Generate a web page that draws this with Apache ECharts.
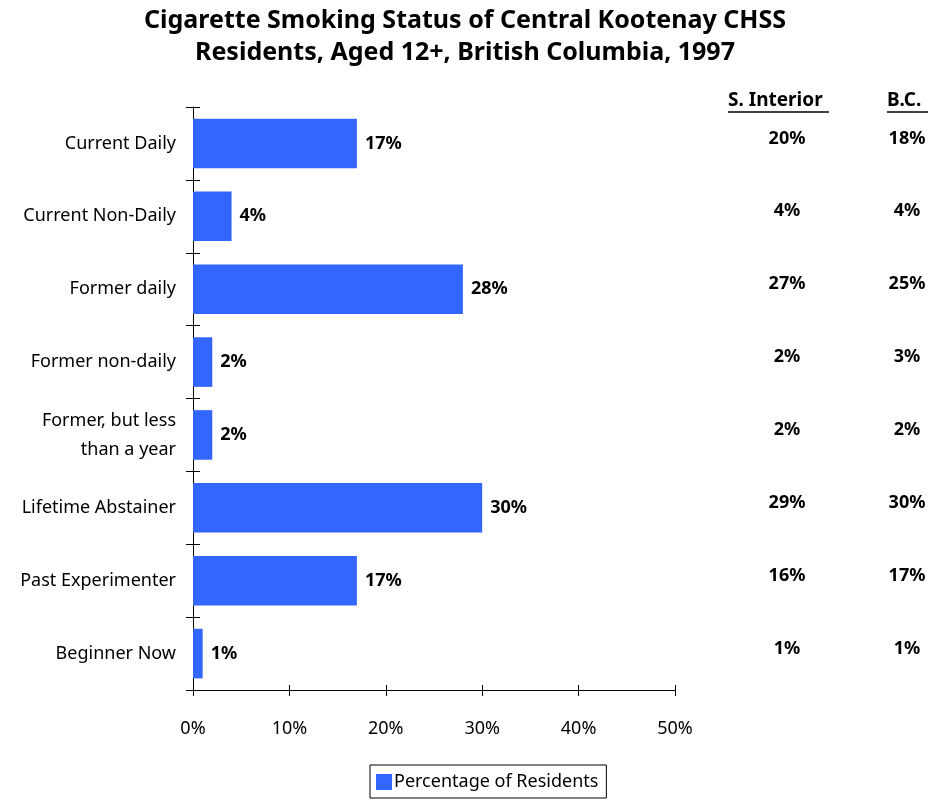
<!DOCTYPE html>
<html>
<head>
<meta charset="utf-8">
<script src="https://cdn.jsdelivr.net/npm/echarts@6/dist/echarts.min.js"></script>
<style>
  html, body { margin: 0; padding: 0; background: #fff; }
  #chart { width: 930px; height: 800px; }
</style>
</head>
<body>
<div id="chart"></div>
<script>
// 类别与数据
const categories = ['Current Daily', 'Current Non-Daily', 'Former daily', 'Former non-daily',
  'Former, but less\nthan a year', 'Lifetime Abstainer', 'Past Experimenter', 'Beginner Now']
const kootenay = [17, 4, 28, 2, 2, 30, 17, 1]
const sInterior = [20, 4, 27, 2, 2, 29, 16, 1]
const bc = [18, 4, 25, 3, 2, 30, 17, 1]
const xTicks = [0, 10, 20, 30, 40, 50]

const font = '"Noto Sans", "DejaVu Sans", sans-serif'
const chart = echarts.init(document.getElementById('chart'))

// 右侧对比列，用额外的类别轴画
const sideAxis = (values, offset) => ({
  type: 'category',
  data: categories,
  inverse: true,
  position: 'right',
  offset: offset,
  axisLine: {show: false},
  axisTick: {show: false},
  axisLabel: {
    margin: 0,
    align: 'center',
    verticalAlign: 'bottom',
    lineHeight: 10,
    fontFamily: font,
    fontSize: 18,
    fontWeight: 'bold',
    color: '#000',
    formatter: (v, i) => values[i] + '%'
  }
})

const option = {
  animation: false,
  title: {
    text: 'Cigarette Smoking Status of Central Kootenay CHSS\nResidents, Aged 12+, British Columbia, 1997',
    left: 'center',
    top: 0,
    textStyle: {fontFamily: font, fontSize: 25, fontWeight: 'bold', color: '#000', lineHeight: 32}
  },
  legend: {
    data: ['Percentage of Residents'],
    left: 370,
    top: 765,
    icon: 'rect',
    itemWidth: 16,
    itemHeight: 16,
    itemGap: 4,
    padding: [8, 8, 7, 6],
    borderColor: '#000',
    borderWidth: 1,
    textStyle: {fontFamily: font, fontSize: 18, color: '#000', padding: [0, 0, 0, -3]}
  },
  grid: {left: 193, right: 255, top: 107, bottom: 110},
  xAxis: [
    {
      type: 'value',
      min: 0,
      max: 50,
      interval: 10,
      splitLine: {show: false},
      axisLine: {show: true, lineStyle: {color: '#000'}},
      axisTick: {show: true, length: 6, lineStyle: {color: '#000'}},
      axisLabel: {
        margin: 30,
        fontFamily: font,
        fontSize: 18,
        color: '#000',
        formatter: v => xTicks.includes(v) ? v + '%' : ''
      }
    },
    {
      // 只画向内的刻度，和外刻度合起来成十字
      type: 'value',
      min: 0,
      max: 50,
      interval: 10,
      position: 'bottom',
      splitLine: {show: false},
      axisLine: {show: false},
      axisTick: {show: true, inside: true, length: 5, lineStyle: {color: '#000'}},
      axisLabel: {show: false}
    }
  ],
  yAxis: [
    {
      type: 'category',
      data: categories,
      inverse: true,
      axisLine: {show: true, lineStyle: {color: '#000'}},
      axisTick: {show: true, length: 7, lineStyle: {color: '#000'}},
      axisLabel: {margin: 17, fontFamily: font, fontSize: 18, color: '#000', lineHeight: 29}
    },
    sideAxis(sInterior, 112),
    sideAxis(bc, 232),
    {
      type: 'category',
      data: categories,
      inverse: true,
      position: 'left',
      offset: 0,
      axisLine: {show: false},
      axisTick: {show: true, inside: true, length: 7, lineStyle: {color: '#000'}},
      axisLabel: {show: false}
    }
  ],
  graphic: [
    {type: 'text', left: 728, top: 91, style: {text: 'S. Interior', font: 'bold 19px ' + font, fill: '#000'}},
    {type: 'line', shape: {x1: 728, y1: 112, x2: 829, y2: 112}, style: {stroke: '#000', lineWidth: 1.5}},
    {type: 'text', left: 887, top: 91, style: {text: 'B.C.', font: 'bold 19px ' + font, fill: '#000'}},
    {type: 'line', shape: {x1: 887, y1: 112, x2: 928, y2: 112}, style: {stroke: '#000', lineWidth: 1.5}}
  ],
  series: [
    {
      name: 'Percentage of Residents',
      type: 'bar',
      data: kootenay,
      barCategoryGap: '32%',
      itemStyle: {color: '#3366FF'},
      label: {
        show: true,
        position: 'right',
        distance: 8,
        fontFamily: font,
        fontSize: 18,
        fontWeight: 'bold',
        color: '#000',
        formatter: p => p.value + '%'
      }
    }
  ]
}

chart.setOption(option)
</script>
</body>
</html>
